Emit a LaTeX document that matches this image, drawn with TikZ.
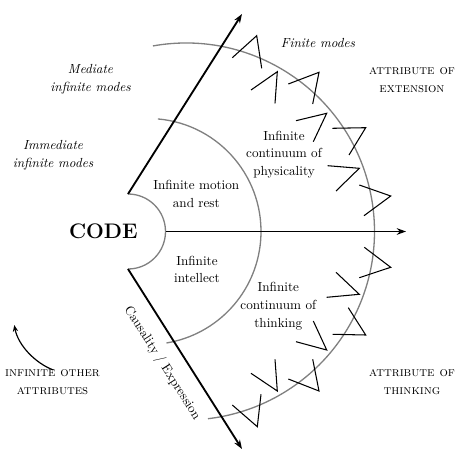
\documentclass[tikz,border=0pt]{standalone}
\usetikzlibrary{arrows.meta}
\begin{document}
\begin{tikzpicture}[x=0.76pt,y=-0.76pt,
  txt/.style={font=\fontsize{10}{13.5}\selectfont, align=center, inner sep=0pt},
  itxt/.style={txt, font=\fontsize{10}{13.5}\selectfont\itshape},
  sctxt/.style={txt, font=\fontsize{10}{13.8}\selectfont\scshape},
  ray/.style={line width=1.4pt, -{Stealth[length=7pt,width=5pt]}},
  arcline/.style={gray, line width=1pt},
  modemark/.style={black, line width=0.8pt}]
\useasboundingbox (0,0) rectangle (460,460);

% key points
\coordinate (rt) at (128,194);
\coordinate (rte) at (242,14);
\coordinate (rb) at (128,269);
\coordinate (rbe) at (242,449);
\coordinate (hs) at (165.5,231.5);
\coordinate (he) at (406,231.5);
\coordinate (mc) at (148,231.5);
\coordinate (lc) at (186,231.5);

% arcs
\draw[arcline] (rt) arc[start angle=-90,end angle=90,radius=37.5];
\draw[arcline] ([shift={(-85:113)}]mc) arc[start angle=-85,end angle=80.6,radius=113];
\draw[arcline] ([shift={(-100.1:188.5)}]lc) arc[start angle=-100.1,end angle=83.3,radius=188.5];

% rays
\draw[ray] (rt) -- (rte);
\draw[ray] (rb) -- (rbe);
\draw[ray] (hs) -- (he);

% finite mode marks (upper)
\draw[modemark] (232.3,57.7) -- (256.7,35.7) -- (261.7,68.3);
\draw[modemark] (251,90) -- (277.3,71.7) -- (275,103.3);
\draw[modemark] (288.3,84) -- (319,72.3) -- (312.7,104);
\draw[modemark] (296,120.7) -- (326.7,113.3) -- (313.3,141.7);
\draw[modemark] (332.3,128.3) -- (365.7,127.7) -- (349,155);
\draw[modemark] (327.7,165.7) -- (359.3,168.3) -- (336,191);
\draw[modemark] (359.3,185) -- (390.7,196) -- (364,215.7);
% finite mode marks (lower)
\draw[modemark] (364.3,247.3) -- (390.7,267.3) -- (359.3,277.7);
\draw[modemark] (336,272.3) -- (359.3,294.3) -- (326.7,297.3);
\draw[modemark] (348.3,307.7) -- (365.7,335) -- (332.7,334.3);
\draw[modemark] (313.3,321) -- (326.7,350) -- (296,341.7);
\draw[modemark] (312.7,359.3) -- (319,391) -- (288.3,379);
\draw[modemark] (275,359.3) -- (277.3,391) -- (251,373.3);
\draw[modemark] (261,394.3) -- (257.3,426.7) -- (232.3,405);

% texts
\node[txt, font=\fontsize{16}{19}\selectfont\bfseries] (code) at (103.3,231.7) {CODE};
\node[itxt] (finite) at (318,43.3) {Finite modes};
\node[itxt] (mediate) at (90.5,79) {Mediate\\infinite modes};
\node[itxt] (immediate) at (53,155.5) {Immediate\\infinite modes};
\node[sctxt] (ext) at (412,80) {attribute of\\extension};
\node[sctxt] (think) at (412,382) {attribute of\\thinking};
\node[sctxt] (other) at (52.5,381.7) {infinite other\\attributes};
\node[txt] (phys) at (284,154.7) {Infinite\\continuum of\\physicality};
\node[txt] (motion) at (196.3,194) {Infinite motion\\and rest};
\node[txt] (intellect) at (197,269.5) {Infinite\\intellect};
\node[txt] (cthink) at (278.3,306) {Infinite\\continuum of\\thinking};
\node[txt, rotate=-57.65] (caus) at (162,363) {Causality / Expression};

% curved arrow
\coordinate (ca) at (53.3,370);
\coordinate (cb) at (14.3,325);
\draw[line width=0.9pt, -{Stealth[length=5pt,width=4pt]}] (ca) .. controls (35,363) and (18,345) .. (cb);
\end{tikzpicture}
\end{document}
